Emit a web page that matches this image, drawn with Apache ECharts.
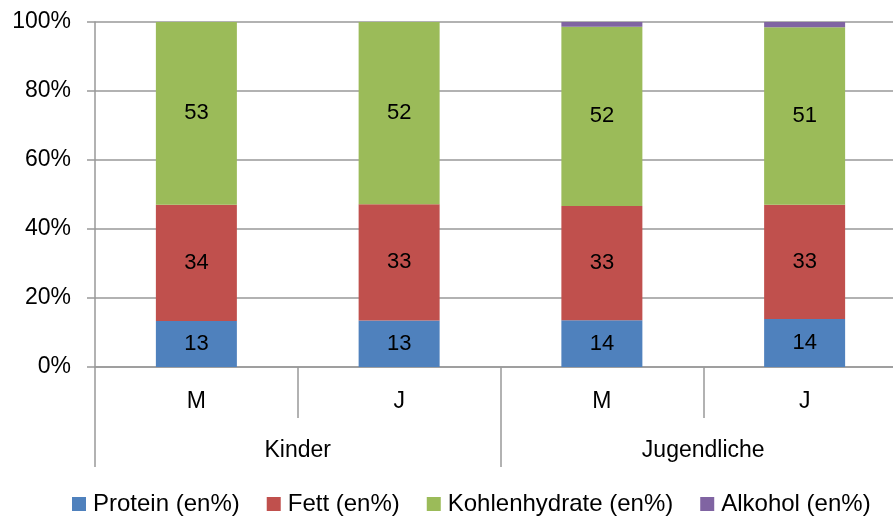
<!DOCTYPE html>
<html>
<head>
<meta charset="utf-8">
<script src="https://cdn.jsdelivr.net/npm/echarts@6/dist/echarts.min.js"></script>
<style>
html,body{margin:0;padding:0;background:#fff;}
#chart{width:893px;height:523px;}
</style>
</head>
<body>
<div id="chart"></div>
<script>
// Kategorien (untere Ebene) und Gruppen (obere Ebene)
var categories = ['M', 'J', 'M', 'J'];
var groups = ['Kinder', 'Jugendliche'];
// Energieanteile (en%) je Balken
var protein = [13.3, 13.4, 13.6, 13.9];
var fett = [33.7, 33.4, 33.2, 33.1];
var kohlenhydrate = [53.0, 52.4, 52.1, 51.4];
var alkohol = [0, 0, 1.4, 1.5];
var names = ['Protein (en%)', 'Fett (en%)', 'Kohlenhydrate (en%)', 'Alkohol (en%)'];
var colors = ['#4F81BD', '#C0504D', '#9BBB59', '#8064A2'];

var FONT = '"Liberation Sans", Arial, sans-serif';
var raw = [protein, fett, kohlenhydrate, alkohol];

// 100%-gestapelt: auf Summe je Balken normieren
var sums = categories.map(function(c, i){
	return protein[i] + fett[i] + kohlenhydrate[i] + alkohol[i];
});

var series = raw.map(function(arr, k){
	return {
		name: names[k],
		type: 'bar',
		stack: 'total',
		barWidth: 81,
		xAxisIndex: 0,
		itemStyle: {color: colors[k]},
		data: arr.map(function(v, i){ return v / sums[i] * 100; }),
		label: {
			show: k < 3,
			position: 'inside',
			color: '#000',
			fontSize: 22,
			fontFamily: FONT,
			formatter: function(p){ return Math.round(arr[p.dataIndex]); }
		}
	};
});

var chart = echarts.init(document.getElementById('chart'));
var option = {
	animation: false,
	textStyle: {fontFamily: FONT},
	grid: {left: 95, top: 22, width: 811, height: 345, outerBoundsMode: 'none', containLabel: false},
	legend: {
		bottom: 2,
		left: 67,
		icon: 'rect',
		itemWidth: 14,
		itemHeight: 14,
		itemGap: 27,
		textStyle: {fontSize: 24, color: '#000', fontFamily: FONT, padding: [0, 0, 0, 2]},
		data: names
	},
	xAxis: [{
		type: 'category',
		data: categories,
		position: 'bottom',
		axisLine: {lineStyle: {color: '#999', width: 1.5}},
		axisTick: {show: true, length: 51, lineStyle: {color: '#999', width: 1.5}},
		axisLabel: {color: '#000', fontSize: 23, margin: 23, fontFamily: FONT},
		splitLine: {show: false}
	}, {
		type: 'category',
		data: groups,
		position: 'bottom',
		axisLine: {show: false},
		axisTick: {show: true, length: 100, lineStyle: {color: '#999', width: 1.5}},
		axisLabel: {color: '#000', fontSize: 23, margin: 72, fontFamily: FONT},
		splitLine: {show: false}
	}],
	yAxis: {
		type: 'value',
		min: 0,
		max: 100,
		interval: 20,
		axisLine: {show: true, lineStyle: {color: '#999', width: 1.5}},
		axisTick: {show: true, length: 8, lineStyle: {color: '#999', width: 1.5}},
		axisLabel: {color: '#000', fontSize: 23, margin: 24, fontFamily: FONT, formatter: '{value}%'},
		splitLine: {lineStyle: {color: '#999', width: 1.5}}
	},
	series: series
};
chart.setOption(option);
</script>
</body>
</html>
